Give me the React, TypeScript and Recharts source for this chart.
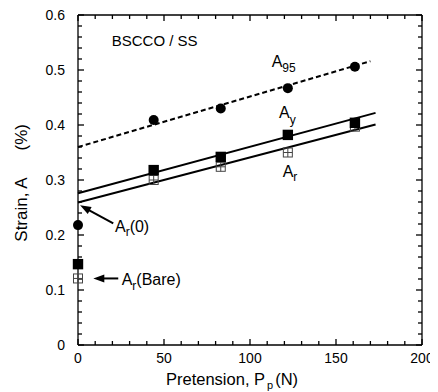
import React from 'react';
import { ComposedChart, XAxis, YAxis, Line, Scatter, ReferenceLine, ReferenceDot } from 'recharts';

const FONT = '"Liberation Sans", Arial, Helvetica, sans-serif';

// measured points
const pretension = [0, 44, 83, 122, 161];
const a95Values = [0.218, 0.409, 0.43, 0.467, 0.506];
const ayValues = [0.147, 0.318, 0.342, 0.382, 0.404];
const arValues = [0.121, 0.3, 0.324, 0.35, 0.397];

// fitted lines (end points)
const a95FitX = [0, 170];
const a95FitY = [0.36, 0.516];
const ayFitX = [0, 173];
const ayFitY = [0.276, 0.422];
const arFitX = [0, 173];
const arFitY = [0.259, 0.401];

// axes
const xDomain = [0, 200];
const yDomain = [0, 0.6];
const xTicks = [0, 10, 20, 30, 40, 50, 60, 70, 80, 90, 100, 110, 120, 130, 140, 150, 160, 170, 180, 190, 200];
const xLabels = [0, 50, 100, 150, 200];
const yTicks = [0, 0.02, 0.04, 0.06, 0.08, 0.1, 0.12, 0.14, 0.16, 0.18, 0.2, 0.22, 0.24, 0.26, 0.28, 0.3, 0.32, 0.34, 0.36, 0.38, 0.4, 0.42, 0.44, 0.46, 0.48, 0.5, 0.52, 0.54, 0.56, 0.58, 0.6];
const yLabels = [0, 0.1, 0.2, 0.3, 0.4, 0.5, 0.6];

const zip = (xs: number[], ys: number[]) => xs.map((x, i) => ({ x, y: ys[i] }));
const a95Data = zip(pretension, a95Values);
const ayData = zip(pretension, ayValues);
const arData = zip(pretension, arValues);
const a95Fit = zip(a95FitX, a95FitY);
const ayFit = zip(ayFitX, ayFitY);
const arFit = zip(arFitX, arFitY);

const isLabelX = (v: number) => xLabels.some((l) => Math.abs(l - v) < 1e-9);
const isLabelY = (v: number) => yLabels.some((l) => Math.abs(l - v) < 1e-9);

// tick-mark carriers placed on the four frame edges
const bottomMarks = xTicks.map((v) => ({ x: v, y: yDomain[0], major: isLabelX(v) }));
const topMarks = xTicks.map((v) => ({ x: v, y: yDomain[1], major: isLabelX(v) }));
const leftMarks = yTicks.map((v) => ({ x: xDomain[0], y: v, major: isLabelY(v) }));
const rightMarks = yTicks.map((v) => ({ x: xDomain[1], y: v, major: isLabelY(v) }));

const TW = 1.3;
const tickLen = (p: any) => ((p.payload && p.payload.major) || p.major ? 6 : 4);
const UpMark = (p: any) => <path d={`M${p.cx},${p.cy}V${p.cy - tickLen(p)}`} stroke="#000" strokeWidth={TW} fill="none" />;
const DownMark = (p: any) => <path d={`M${p.cx},${p.cy}V${p.cy + tickLen(p)}`} stroke="#000" strokeWidth={TW} fill="none" />;
const RightMark = (p: any) => <path d={`M${p.cx},${p.cy}H${p.cx + tickLen(p)}`} stroke="#000" strokeWidth={TW} fill="none" />;
const LeftMark = (p: any) => <path d={`M${p.cx},${p.cy}H${p.cx - tickLen(p)}`} stroke="#000" strokeWidth={TW} fill="none" />;

const BottomTick = (p: any) => {
  const { x, y, payload } = p;
  if (!isLabelX(payload.value)) return <g />;
  return (
    <text x={x} y={y + 18} textAnchor="middle" fontSize={14} fontFamily={FONT} fill="#000" stroke="none">
      {payload.value}
    </text>
  );
};
const LeftTick = (p: any) => {
  const { x, y, payload } = p;
  if (!isLabelY(payload.value)) return <g />;
  return (
    <text x={x - 13} y={y + 5} textAnchor="end" fontSize={14} fontFamily={FONT} fill="#000" stroke="none">
      {String(payload.value)}
    </text>
  );
};
const NoTick = () => <g />;

const XTitle = (p: any) => {
  const vb = p.viewBox;
  return (
    <text x={vb.x + 88} y={vb.y + 40} fontSize={16.5} fontFamily={FONT} fill="#000">
      Pretension, P
      <tspan fontSize={11} dy={4} dx={2}>p</tspan>
      <tspan dy={-4} dx={2}>(N)</tspan>
    </text>
  );
};
const YTitle = () => (
  <text transform="translate(18.7, 233.7) rotate(-90)" x={0} y={0} textAnchor="start" fontSize={17} fontFamily={FONT} fill="#000">
    Strain, A
    <tspan dx={27}>(%)</tspan>
  </text>
);

const Circle = (p: any) => <circle cx={p.cx} cy={p.cy} r={5} fill="#000" />;
const FilledSquare = (p: any) => <rect x={p.cx - 5.2} y={p.cy - 5.2} width={10.4} height={10.4} fill="#000" />;
const CrossSquare = (p: any) => (
  <g stroke="#444" strokeWidth={1} fill="none">
    <rect x={p.cx - 4.5} y={p.cy - 4.5} width={9} height={9} />
    <line x1={p.cx} y1={p.cy - 4.5} x2={p.cx} y2={p.cy + 4.5} />
    <line x1={p.cx - 4.5} y1={p.cy} x2={p.cx + 4.5} y2={p.cy} />
  </g>
);

const Arrow = (p: any) => {
  const { x1, y1, x2, y2 } = p;
  const ang = Math.atan2(y2 - y1, x2 - x1);
  const L = 11;
  const W = 4;
  const bx = x2 - L * Math.cos(ang);
  const by = y2 - L * Math.sin(ang);
  const px = -Math.sin(ang) * W;
  const py = Math.cos(ang) * W;
  return (
    <g>
      <line x1={x1} y1={y1} x2={bx + Math.cos(ang)} y2={by + Math.sin(ang)} stroke="#000" strokeWidth={2} />
      <polygon points={`${x2},${y2} ${bx + px},${by + py} ${bx - px},${by - py}`} fill="#000" />
    </g>
  );
};

const makeLabel = (main: string, sub: string, subDy: number, rest = '', size = 16) => (p: any) => (
  <text x={p.cx} y={p.cy} fontSize={size} fontFamily={FONT} fill="#000">
    {main}
    {sub && (
      <tspan fontSize={12} dy={subDy}>
        {sub}
      </tspan>
    )}
    {rest && <tspan dy={-subDy}>{rest}</tspan>}
  </text>
);

const common = {
  type: 'number' as const,
  interval: 0 as const,
  tickSize: 0.001,
  tickMargin: 0,
  tickLine: false,
  stroke: '#000',
  axisLine: { stroke: '#000', strokeWidth: 1.3 },
};

export default function App() {
  return (
    <ComposedChart width={430} height={384} margin={{ top: 6, right: 15, bottom: 0, left: 0 }}>
      <XAxis {...common} xAxisId={0} dataKey="x" domain={xDomain} ticks={xTicks} tick={<BottomTick />} height={47} label={{ content: XTitle }} />
      <XAxis {...common} xAxisId="top" orientation="top" dataKey="x" domain={xDomain} ticks={xTicks} tick={<NoTick />} height={1} />
      <YAxis {...common} yAxisId={0} domain={yDomain} ticks={yTicks} tick={<LeftTick />} width={70} label={{ content: YTitle }} />
      <YAxis {...common} yAxisId="right" orientation="right" domain={yDomain} ticks={yTicks} tick={<NoTick />} width={1} />

      {/* invisible carrier so that the mirrored frame axes are drawn */}
      <Line xAxisId="top" yAxisId="right" data={a95Fit} dataKey="y" stroke="none" dot={false} activeDot={false} isAnimationActive={false} />

      {/* inward tick marks */}
      <Scatter data={bottomMarks} dataKey="y" shape={UpMark} isAnimationActive={false} />
      <Scatter data={topMarks} dataKey="y" shape={DownMark} isAnimationActive={false} />
      <Scatter data={leftMarks} dataKey="y" shape={RightMark} isAnimationActive={false} />
      <Scatter data={rightMarks} dataKey="y" shape={LeftMark} isAnimationActive={false} />

      <Line data={a95Fit} dataKey="y" stroke="#000" strokeWidth={2} strokeDasharray="5 3" dot={false} isAnimationActive={false} />
      <Line data={ayFit} dataKey="y" stroke="#000" strokeWidth={2} dot={false} isAnimationActive={false} />
      <Line data={arFit} dataKey="y" stroke="#000" strokeWidth={2} dot={false} isAnimationActive={false} />

      <Scatter data={arData} dataKey="y" shape={CrossSquare} isAnimationActive={false} />
      <Scatter data={ayData} dataKey="y" shape={FilledSquare} isAnimationActive={false} />
      <Scatter data={a95Data} dataKey="y" shape={Circle} isAnimationActive={false} />

      <ReferenceLine segment={[{ x: 20.5, y: 0.221 }, { x: 1.2, y: 0.254 }]} shape={Arrow} ifOverflow="visible" />
      <ReferenceLine segment={[{ x: 23.4, y: 0.121 }, { x: 8.9, y: 0.121 }]} shape={Arrow} ifOverflow="visible" />

      <ReferenceDot x={19.6} y={0.544} r={0} shape={makeLabel('BSCCO / SS', '', 0, '', 15)} ifOverflow="visible" />
      <ReferenceDot x={112.6} y={0.506} r={0} shape={makeLabel('A', '95', 5.5)} ifOverflow="visible" />
      <ReferenceDot x={116.9} y={0.413} r={0} shape={makeLabel('A', 'y', 6.5)} ifOverflow="visible" />
      <ReferenceDot x={119} y={0.306} r={0} shape={makeLabel('A', 'r', 4)} ifOverflow="visible" />
      <ReferenceDot x={21.5} y={0.206} r={0} shape={makeLabel('A', 'r', 4.5, '(0)')} ifOverflow="visible" />
      <ReferenceDot x={25.4} y={0.109} r={0} shape={makeLabel('A', 'r', 5, '(Bare)')} ifOverflow="visible" />
    </ComposedChart>
  );
}
